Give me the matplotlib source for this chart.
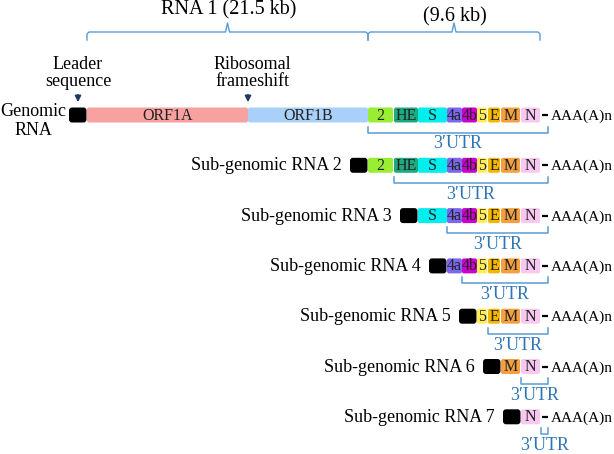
import matplotlib
matplotlib.use('Agg')
import matplotlib.pyplot as plt
from matplotlib.patches import FancyBboxPatch

plt.rcParams['font.family'] = ['Liberation Serif', 'DejaVu Serif']

# gene segments of the genome (diagram units, left to right)
genes = ['ORF1A', 'ORF1B', '2', 'HE', 'S', '4a', '4b', '5', 'E', 'M', 'N']
gene_start = [87, 248, 368, 394, 418, 447, 462, 477, 488, 501, 521]
gene_end = [248, 368, 393, 418, 447, 462, 477, 487, 500, 520, 540]
gene_colors = ['#f7a1a1', '#a8d0f8', '#99ee33', '#1eaa80', '#00eeee', '#7b68ee',
               '#cc00cc', '#ffee55', '#f5b800', '#f4a040', '#f8c8f0']

# rows: label, index of first gene, index where 3'UTR bracket starts
row_labels = ['Genomic\nRNA', 'Sub-genomic RNA 2', 'Sub-genomic RNA 3', 'Sub-genomic RNA 4',
              'Sub-genomic RNA 5', 'Sub-genomic RNA 6', 'Sub-genomic RNA 7']
row_first = [0, 2, 4, 5, 7, 9, 10]
utr_from = [2, 3, 5, 6, 8, 10, 11]

braces = [('RNA 1 (21.5 kb)', 0, 1), ('(9.6 kb)', 2, 10)]

fig = plt.figure(figsize=(6.14, 4.54), dpi=100)
ax = fig.add_axes([0, 0, 1, 1])
ax.set_xlim(0, 614)
ax.set_ylim(454, 0)
ax.axis('off')

y0, dy, h = 115, 50.3, 15
leader_w = 18
utr_end = 548
blue_line = '#5b9bd5'
blue_text = '#2e75b6'
navy = '#1f3864'


def box(x0, x1, y, color, r=2):
    ax.add_patch(FancyBboxPatch((x0, y - h / 2), x1 - x0, h,
                                boxstyle='round,pad=0,rounding_size=%g' % r,
                                fc=color, ec='none'))


for i, (lab, f, u) in enumerate(zip(row_labels, row_first, utr_from)):
    y = y0 + i * dy
    xs = gene_start[f]
    # leader sequence
    box(xs - leader_w, xs - 0.5, y, 'black', r=3)
    for g in range(f, len(genes)):
        box(gene_start[g], gene_end[g], y, gene_colors[g])
        name = genes[g]
        ax.text((gene_start[g] + gene_end[g]) / 2, y + 0.5, name, ha='center', va='center',
                fontsize=11.5, color='#222222')
    # poly-A tail
    ax.plot([542, 548], [y, y], color='black', lw=1.6, solid_capstyle='butt')
    ax.text(551, y + 5, 'AAA(A)n', ha='left', va='baseline', fontsize=11)
    # row label
    if i == 0:
        ax.text(33, y + 6, lab, ha='center', va='center', fontsize=13, linespacing=1.1)
    else:
        ax.text(xs - leader_w - 8, y + 5, lab, ha='right', va='baseline', fontsize=13)
    # 3'UTR bracket
    bx0 = gene_start[u] if u < len(genes) else gene_end[-1] + 1
    yb = y + h / 2
    ax.plot([bx0, bx0, utr_end, utr_end], [yb + 4, yb + 10, yb + 10, yb + 4],
            color=blue_line, lw=1.1)
    ax.text((bx0 + utr_end) / 2, yb + 13, '3\u2032UTR', ha='center', va='top',
            fontsize=13, color=blue_text)

# top braces
for lab, a, b in braces:
    x0, x1 = gene_start[a], gene_end[b]
    xm = (x0 + x1) / 2
    ax.plot([x0, x0, x0 + 2, xm - 2, xm, xm + 2, x1 - 2, x1, x1],
            [40, 34, 32, 32, 23, 32, 32, 34, 40], color=blue_line, lw=1)
    ty = 10 if a == 0 else 17
    ax.text(xm + 1, ty, lab, ha='center', va='center', fontsize=14.5)

# annotations with arrows
ax.text(78, 73, 'Leader\nsequence', ha='center', va='center', fontsize=13, linespacing=1.05)
ax.annotate('', xy=(78, 105), xytext=(78, 92),
            arrowprops=dict(arrowstyle='-|>', color=navy, lw=1.2, mutation_scale=9))
ax.text(252, 73, 'Ribosomal\nframeshift', ha='center', va='center', fontsize=13, linespacing=1.05)
ax.annotate('', xy=(248, 105), xytext=(248, 92),
            arrowprops=dict(arrowstyle='-|>', color=navy, lw=1.2, mutation_scale=9))

fig.savefig('out.png', dpi=100)
